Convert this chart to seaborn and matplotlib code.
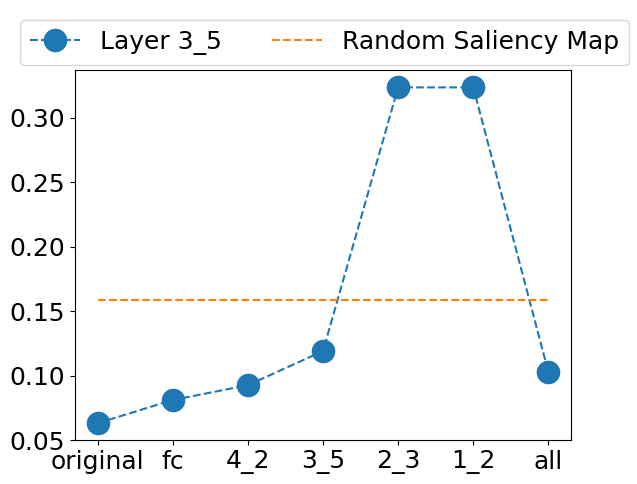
import matplotlib
matplotlib.use("Agg")
import matplotlib.pyplot as plt
import seaborn as sns

layers = ["original", "fc", "4_2", "3_5", "2_3", "1_2", "all"]
layer_3_5 = [0.063, 0.081, 0.0925, 0.119, 0.3235, 0.3235, 0.1025]
random_saliency = 0.1585

plt.rcParams["font.size"] = 18

fig = plt.figure(figsize=(6.37, 4.84), dpi=100)
ax = fig.add_axes([0.1177, 0.0909, 0.7787, 0.7645])

pos = list(range(len(layers)))
sns.lineplot(x=pos, y=layer_3_5, ax=ax, marker="o", linestyle="--",
             markersize=17, color="C0", markeredgecolor="C0",
             markeredgewidth=0, label="Layer 3_5")
sns.lineplot(x=[pos[0], pos[-1]], y=[random_saliency, random_saliency], ax=ax,
             linestyle="--", color="C1", label="Random Saliency Map")

ax.set_xticks(pos)
ax.set_xticklabels(layers)
ax.set_yticks([0.05, 0.10, 0.15, 0.20, 0.25, 0.30])
ax.tick_params(labelsize=18)
ax.set_ylim(0.05, 0.337)
ax.set_xlim(-0.3, 6.3)

ax.legend(loc="upper center", bbox_to_anchor=(0.509, 0.985),
          bbox_transform=fig.transFigure, ncol=2, fontsize=18)

fig.savefig("out.png", dpi=100)
